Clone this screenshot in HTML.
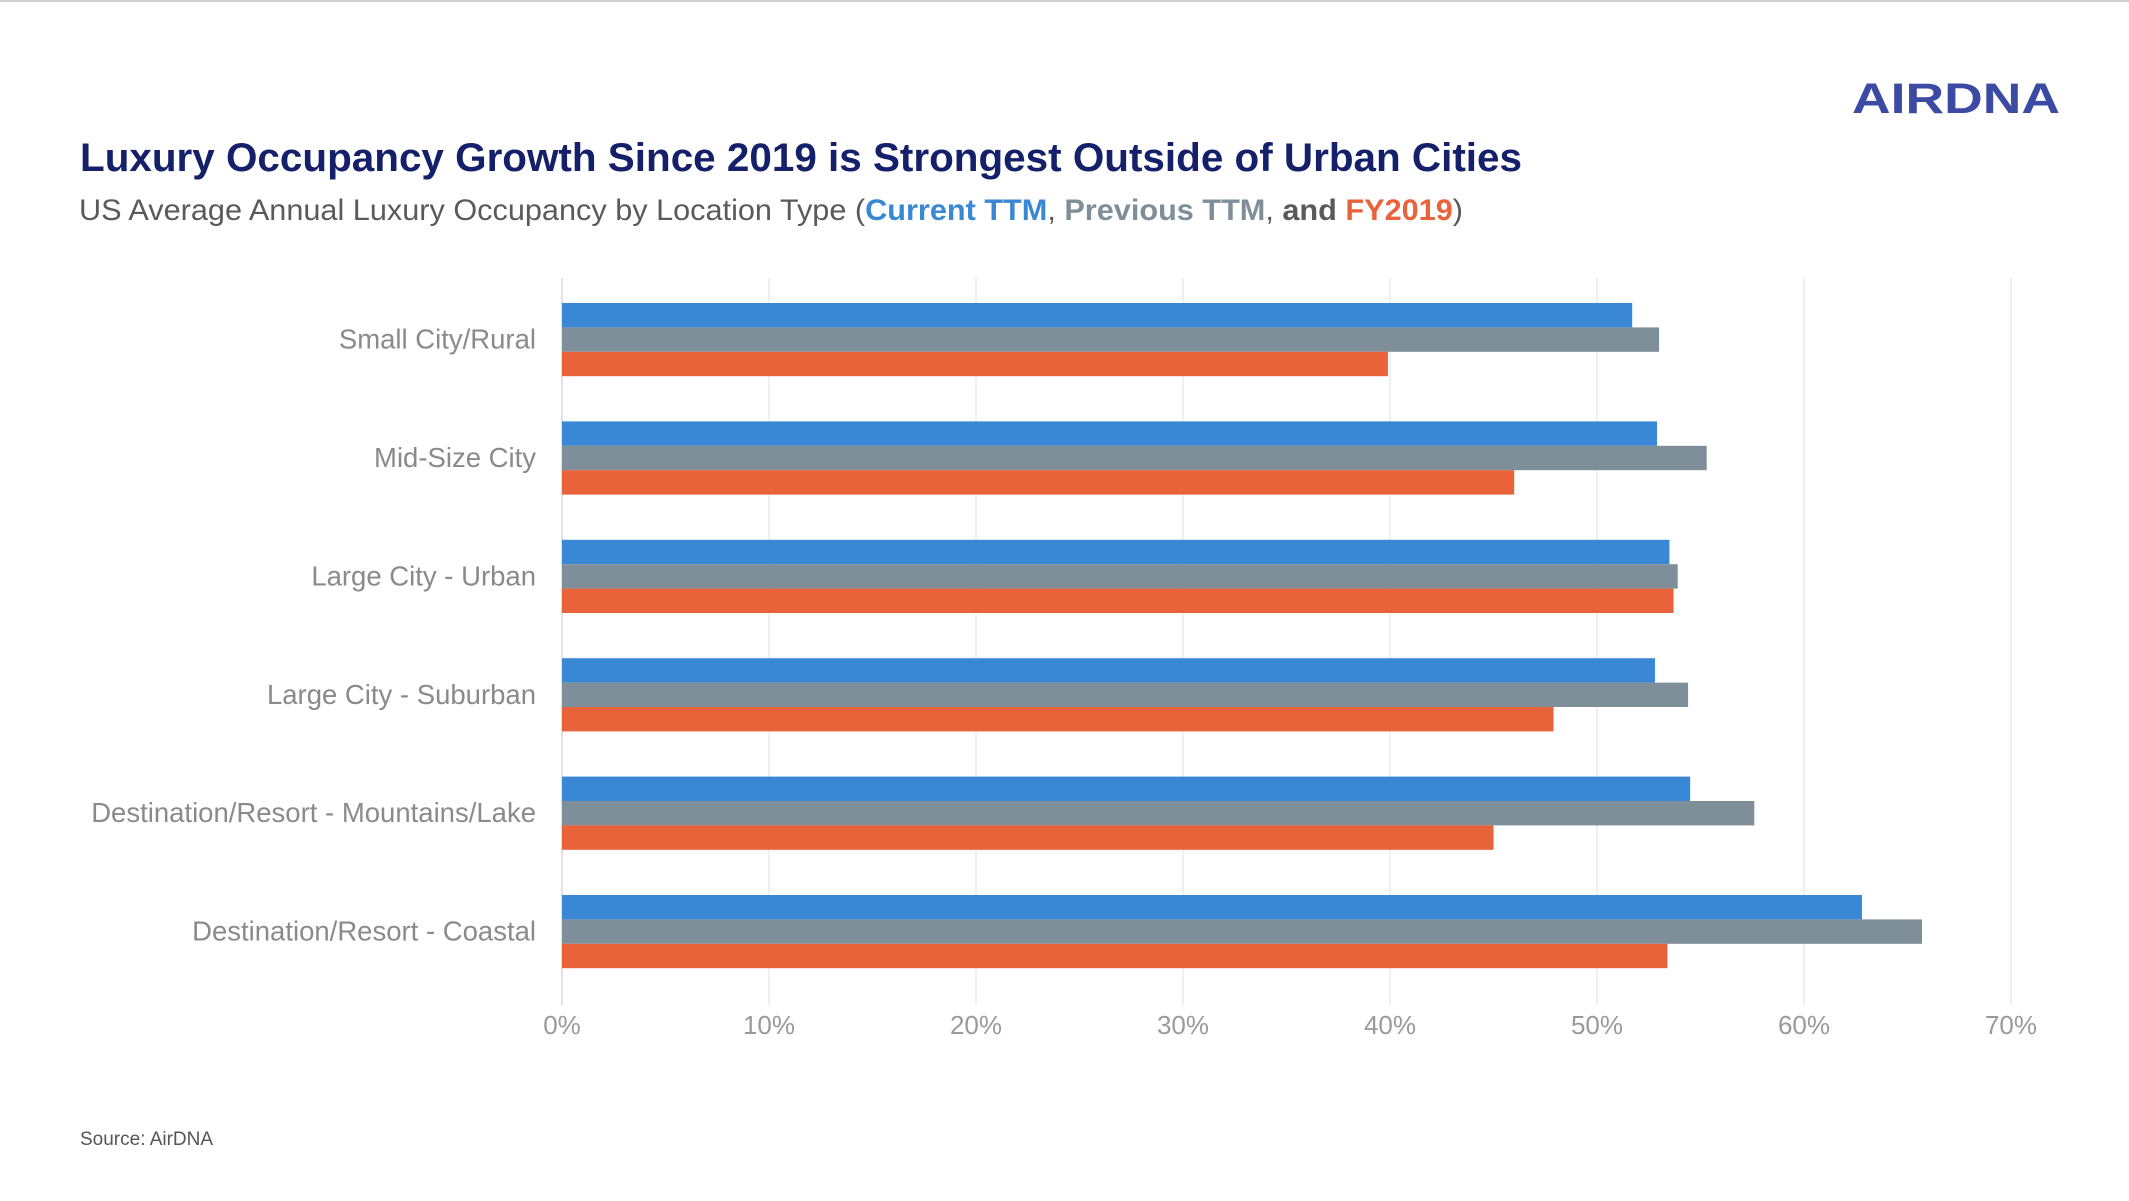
<!DOCTYPE html>
<html><head><meta charset="utf-8"><style>
html,body{margin:0;padding:0;background:#fff;}
svg{display:block;font-family:"Liberation Sans",sans-serif;}
</style></head><body>
<svg id="chart" width="2129" height="1201" viewBox="0 0 2129 1201" xmlns="http://www.w3.org/2000/svg">
<rect x="0" y="0" width="2129" height="2" fill="#d0d0d0"/>
<text x="1852" y="113" font-size="43" font-weight="bold" fill="#3b4aa2" textLength="208" lengthAdjust="spacingAndGlyphs">AIRDNA</text>
<text x="80" y="171" font-size="40" font-weight="bold" fill="#14216a" textLength="1442" lengthAdjust="spacingAndGlyphs">Luxury Occupancy Growth Since 2019 is Strongest Outside of Urban Cities</text>
<text x="79" y="220" font-size="30" fill="#5a5a5a" textLength="1384" lengthAdjust="spacingAndGlyphs">US Average Annual Luxury Occupancy by Location Type (<tspan font-weight="bold" fill="#3a87d4">Current TTM</tspan>, <tspan font-weight="bold" fill="#7e8f99">Previous TTM</tspan>, <tspan font-weight="bold" fill="#5a5a5a">and</tspan> <tspan font-weight="bold" fill="#e8623a">FY2019</tspan>)</text>
<g id="grid"></g>
<g id="bars"></g>
<g id="labels"></g>
<g id="ticks"></g>
<text x="80" y="1145" font-size="19" fill="#555">Source: AirDNA</text>
</svg>
<script>
const categories = ["Small City/Rural","Mid-Size City","Large City - Urban","Large City - Suburban","Destination/Resort - Mountains/Lake","Destination/Resort - Coastal"];
const currentTTM = [51.7, 52.9, 53.5, 52.8, 54.5, 62.8];
const previousTTM = [53.0, 55.3, 53.9, 54.4, 57.6, 65.7];
const fy2019 = [39.9, 46.0, 53.7, 47.9, 45.0, 53.4];
const tickValues = [0,10,20,30,40,50,60,70];
const tickLabels = ["0%","10%","20%","30%","40%","50%","60%","70%"];

const NS = "http://www.w3.org/2000/svg";
const x0 = 562, pxPer = 20.7;
const xs = v => x0 + v * pxPer;
const groupTop = 303, groupStep = 118.4, barH = 24.4;
const ys = (i, s) => groupTop + i * groupStep + s * barH;
function mk(tag, attrs, parent){const e=document.createElementNS(NS,tag);for(const k in attrs)e.setAttribute(k,attrs[k]);parent.appendChild(e);return e;}
const grid=document.getElementById('grid'), bars=document.getElementById('bars'), labels=document.getElementById('labels'), ticks=document.getElementById('ticks');
tickValues.forEach((t,i)=>{
  const l=mk('line',{x1:xs(t),x2:xs(t),y1:278,y2:1005,stroke:i===0?'#d8d8d8':'#ececec','stroke-width':1.5},grid);
  
  
  const tx=mk('text',{x:xs(t),y:1034,'font-size':26,fill:'#9a9a9a','text-anchor':'middle'},ticks);
  tx.textContent=tickLabels[i];
  
  
});
const series=[[currentTTM,'#3a87d6','current-ttm'],[previousTTM,'#7f8f99','previous-ttm'],[fy2019,'#e8623a','fy2019']];
categories.forEach((c,i)=>{
  series.forEach((s,j)=>{
    const r=mk('rect',{x:x0,y:ys(i,j),width:xs(s[0][i])-x0,height:barH,fill:s[1]},bars);
    
    
  });
  const t=mk('text',{x:536,y:ys(i,1)+barH/2+9,'font-size':27.5,fill:'#8a8a8a','text-anchor':'end'},labels);
  t.textContent=c;
  
  
});
</script>
</body></html>
